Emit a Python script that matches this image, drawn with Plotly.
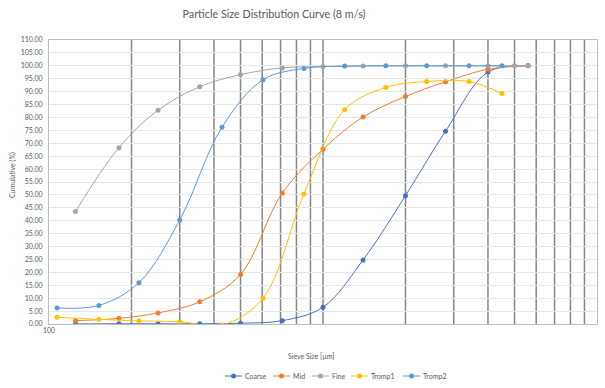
import plotly.graph_objects as go

# Sieve sizes (µm) for the size-class series and the Tromp midpoints
sieve_coarse = [125, 180, 250, 355, 500, 710, 1000, 1400, 2000, 2800, 4000, 5600]
coarse = [0.0, 0.1, 0.1, 0.1, 0.3, 1.3, 6.5, 24.8, 49.7, 74.7, 97.6, 100.0]

sieve_mid = [125, 180, 250, 355, 500, 710, 1000, 1400, 2000, 2800, 4000, 5600]
mid = [1.3, 2.2, 4.3, 8.6, 19.2, 50.7, 67.7, 80.2, 88.1, 93.8, 98.7, 100.0]

sieve_fine = [125, 180, 250, 355, 500, 710, 1000, 1400, 2000, 2800, 4000, 5000, 5600]
fine = [43.6, 68.3, 82.8, 91.9, 96.6, 99.2, 99.7, 99.9, 100.0, 100.0, 100.0, 100.0, 100.0]

sieve_tromp = [107, 152, 213, 300, 428, 604, 852, 1200, 1695, 2390, 3410, 4500]
tromp1 = [2.6, 1.8, 1.2, 0.9, -0.4, 10.0, 50.4, 83.0, 91.6, 93.9, 93.9, 89.3]
tromp2 = [6.2, 7.2, 16.0, 40.3, 76.2, 94.6, 99.0, 99.9, 100.0, 100.0, 100.0, 100.0]

series = [
    ("Coarse", sieve_coarse, coarse, "#4472C4"),
    ("Mid", sieve_mid, mid, "#ED7D31"),
    ("Fine", sieve_fine, fine, "#A5A5A5"),
    ("Tromp1", sieve_tromp, tromp1, "#FFC000"),
    ("Tromp2", sieve_tromp, tromp2, "#5B9BD5"),
]

FONT = "Lato"
TEXT = "#595959"
W, H = 605, 388
L, R, T, B = 49, 8, 40, 64
PW, PH = W - L - R, H - T - B


def px_x(px):
    return (px - L) / PW


def px_y(py):
    return (H - B - py) / PH


fig = go.Figure()
for name, xs, ys, color in series:
    fig.add_trace(go.Scatter(
        x=xs, y=ys, name=name, mode="lines+markers",
        line=dict(color=color, width=1, shape="spline", smoothing=1),
        marker=dict(color=color, size=5),
        showlegend=False,
    ))

shapes = []
# vertical minor gridlines of the log axis
grid_x = [m * d for d in (100, 1000) for m in range(2, 10)] + [1000]
for gx in grid_x:
    shapes.append(dict(type="line", xref="x", yref="paper", x0=gx, x1=gx, y0=0, y1=1,
                       line=dict(color="#868686", width=1.5), layer="below"))

# compact legend row below the axis title
annotations = []
legend_y = 376
legend_left = [225, 273, 312, 351, 403]
key_len = 17
for (name, _, _, color), x0 in zip(series, legend_left):
    shapes.append(dict(type="line", xref="paper", yref="paper",
                       x0=px_x(x0), x1=px_x(x0 + key_len), y0=px_y(legend_y), y1=px_y(legend_y),
                       line=dict(color=color, width=1)))
    cx, r = x0 + key_len / 2, 2.5
    shapes.append(dict(type="circle", xref="paper", yref="paper",
                       x0=px_x(cx - r), x1=px_x(cx + r), y0=px_y(legend_y + r), y1=px_y(legend_y - r),
                       fillcolor=color, line=dict(width=0)))
    annotations.append(dict(text=name, xref="paper", yref="paper", x=px_x(x0 + key_len + 1),
                            y=px_y(legend_y), showarrow=False, xanchor="left", yanchor="middle",
                            font=dict(size=7, color=TEXT)))

annotations += [
    dict(text="Sieve Size [µm]", xref="paper", yref="paper", x=px_x(311),
         y=px_y(356), showarrow=False, xanchor="center", yanchor="middle",
         font=dict(size=7, color=TEXT)),
    dict(text="Cumulative (%)", xref="paper", yref="paper", x=px_x(12),
         y=px_y(175), showarrow=False, textangle=-90, xanchor="center", yanchor="middle",
         font=dict(size=7, color=TEXT)),
]

fig.update_layout(
    width=W, height=H,
    margin=dict(l=L, r=R, t=T, b=B, autoexpand=False),
    paper_bgcolor="white", plot_bgcolor="white",
    font=dict(family=FONT, color=TEXT, size=7),
    title=dict(text="Particle Size Distribution Curve (8 m/s)", x=274 / W, xanchor="center",
               xref="container", y=1 - 14 / H, yanchor="middle", yref="container",
               font=dict(family=FONT, size=10.8, color=TEXT)),
    xaxis=dict(type="log", range=[2, 4], tickvals=[100, 10000], ticktext=["100", "10000"],
               showgrid=False, showline=True, linecolor="#bfbfbf", linewidth=1, mirror=True,
               ticks="", tickfont=dict(size=7, color=TEXT), zeroline=False),
    yaxis=dict(range=[0, 110], dtick=5, tickformat=".2f", showgrid=True, gridcolor="#e6e6e6",
               gridwidth=1, showline=True, linecolor="#bfbfbf", linewidth=1, mirror=True,
               ticks="", tickfont=dict(size=7, color=TEXT), zeroline=False,
               ticklabelstandoff=4),
    showlegend=False,
    shapes=shapes,
    annotations=annotations,
)

fig.write_html("out.html")
